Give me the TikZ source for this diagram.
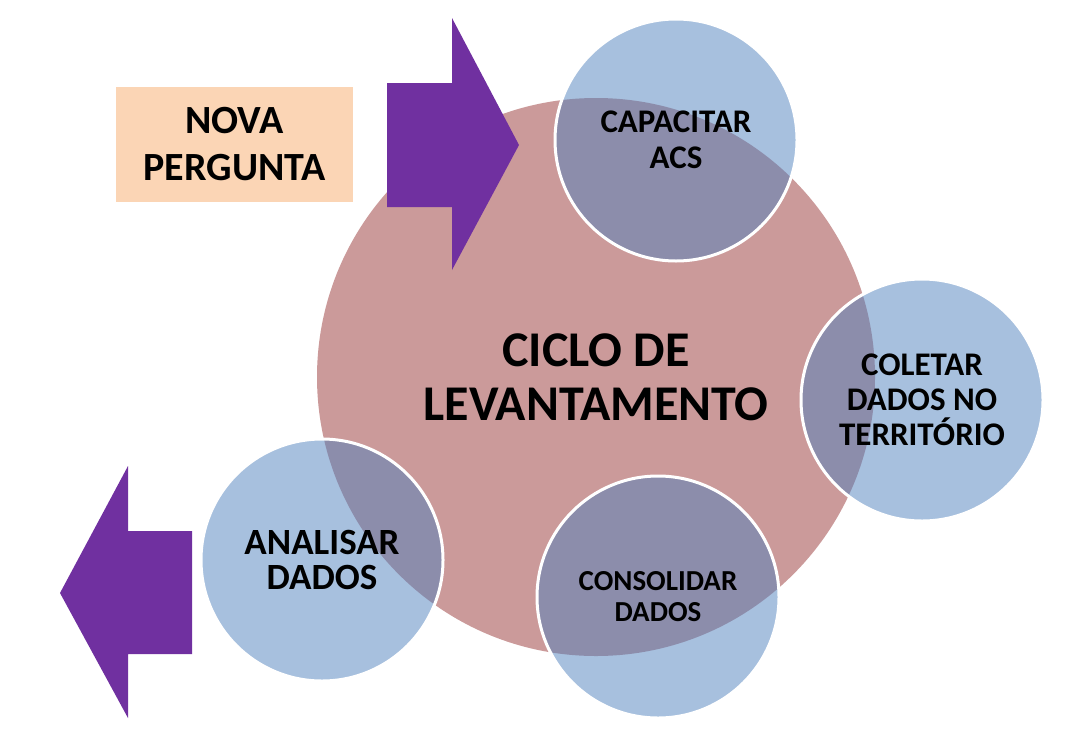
\documentclass[tikz,border=0pt]{standalone}
\usepackage{fontspec}
\setmainfont{Carlito}
\usepackage{xcolor}
\usetikzlibrary{positioning}
\definecolor{ciclo}{RGB}{203, 154, 154}
\definecolor{etapa}{RGB}{79, 129, 189}
\definecolor{seta}{RGB}{112, 48, 160}
\definecolor{pessego}{RGB}{251, 213, 181}
\tikzset{
    bigcircle/.style={circle, fill=ciclo, inner sep=0pt, minimum size=558pt, align=center, font=\bfseries\fontsize{50}{54}\selectfont},
    stage/.style={circle, draw=white, line width=3pt, fill=etapa, fill opacity=0.5, text opacity=1, inner sep=0pt, minimum size=242pt, align=center},
    blockarrow/.style={fill=seta},
    notebox/.style={rectangle, fill=pessego, minimum width=237pt, minimum height=115pt, align=center, font=\bfseries\fontsize{40}{47}\selectfont}
}
\begin{document}
\begin{tikzpicture}[x=1pt, y=-1pt]
    \useasboundingbox (0,0) rectangle (1091,755);
    \node[bigcircle] (ciclo) at (596,377) {CICLO DE\\LEVANTAMENTO};
    \node[notebox] (nova) at (234.5,144.5) {NOVA\\PERGUNTA};
    % setas
    \fill[blockarrow] (387,83) -- (452,83) -- (452,18) -- (519,145) -- (452,270) -- (452,207) -- (387,207) -- cycle;
    \fill[blockarrow] (192,531) -- (128,531) -- (128,466) -- (60,593) -- (128,718) -- (128,654) -- (192,654) -- cycle;
    % etapas
    \node[stage, font=\bfseries\fontsize{33}{36}\selectfont] (capacitar) at (676,140) {CAPACITAR\\ACS};
    \node[stage, font=\bfseries\fontsize{33}{35}\selectfont] (coletar) at (922,400) {COLETAR\\DADOS NO\\TERRITÓRIO};
    \node[stage, font=\bfseries\fontsize{29}{31}\selectfont] (consolidar) at (658,597) {CONSOLIDAR\\DADOS};
    \node[stage, font=\bfseries\fontsize{37}{35}\selectfont] (analisar) at (322,560) {ANALISAR\\DADOS};
\end{tikzpicture}
\end{document}
